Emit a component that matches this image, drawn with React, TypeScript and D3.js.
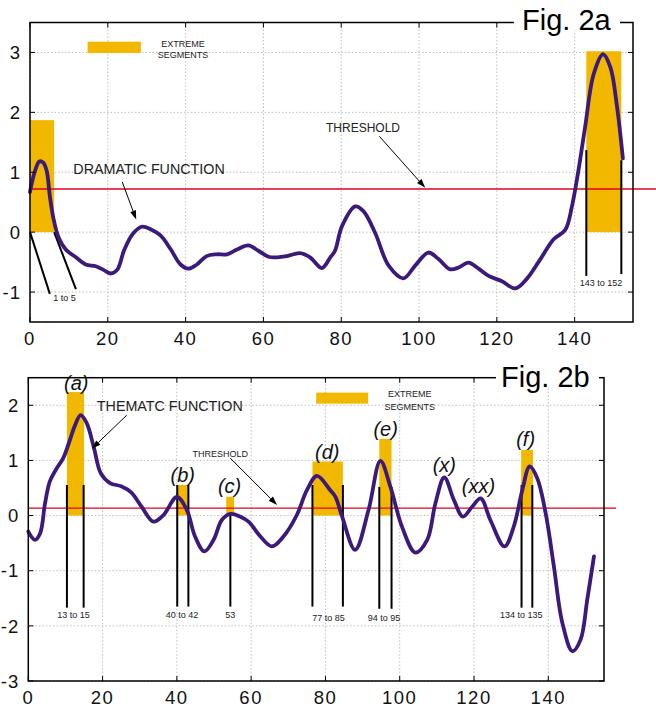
import React from "react";
import * as d3 from "d3";

// ---------- DATA ----------
const xTicks = [0, 20, 40, 60, 80, 100, 120, 140];
const topYTicks = [-1, 0, 1, 2, 3];
const botYTicks = [-3, -2, -1, 0, 1, 2];

const dramaticX = [0, 1.1, 2.4, 3.4, 4.3, 5.1, 6, 7.3, 9.2, 11.8, 14.3, 16.9, 18.9, 20.7, 22.4, 24.2, 26.4, 28.7, 31, 33.6, 36.2, 38.7, 40.7, 42.9, 45.4, 48, 50.6, 53.2, 56.1, 58.7, 61.3, 63.5, 66, 69.4, 72, 75, 77.2, 78.4, 80.2, 83.6, 85.7, 88.7, 92.2, 96, 99, 102.4, 105, 108, 110.2, 112.7, 115.3, 117.9, 121.3, 124.7, 127.7, 131.2, 134.6, 137.6, 139.3, 141, 142.7, 144.9, 147.3, 149.2, 150.9, 152.4];
const dramaticY = [0.67, 0.98, 1.18, 1.16, 1.02, 0.6, 0.24, -0.08, -0.29, -0.42, -0.54, -0.57, -0.63, -0.69, -0.63, -0.3, -0.03, 0.09, 0.05, -0.06, -0.29, -0.54, -0.61, -0.54, -0.4, -0.37, -0.37, -0.29, -0.22, -0.31, -0.41, -0.42, -0.4, -0.35, -0.42, -0.6, -0.42, -0.31, 0.1, 0.43, 0.35, -0.01, -0.56, -0.77, -0.56, -0.34, -0.45, -0.62, -0.59, -0.51, -0.61, -0.73, -0.82, -0.94, -0.78, -0.45, -0.12, 0.04, 0.43, 1.04, 1.76, 2.64, 2.97, 2.75, 2.09, 1.23];

const thematicX = [0, 1.8, 3.2, 4.5, 5.8, 7.5, 9.4, 11.2, 12.6, 14.1, 15.7, 17.7, 19.5, 22, 25, 27.7, 30.5, 33.7, 36.4, 40, 42.7, 44.9, 47.4, 49.9, 52.1, 54.4, 57.1, 59.3, 62.5, 65.6, 68.7, 72.3, 75, 77.7, 81.3, 82.7, 84.5, 88, 91.6, 94.8, 97.5, 100.6, 104.2, 107.4, 109.6, 112, 114.6, 117, 119.5, 121.8, 124.4, 128.2, 130.7, 133, 135, 137, 139.3, 141.5, 143.8, 146.5, 148.7, 150.5, 152.3];
const thematicY = [-0.29, -0.44, -0.32, 0.22, 0.62, 0.84, 1.04, 1.37, 1.64, 1.82, 1.68, 1.22, 0.77, 0.59, 0.53, 0.42, 0.16, -0.11, 0.01, 0.34, 0.1, -0.38, -0.65, -0.44, -0.08, 0.03, -0.02, -0.11, -0.38, -0.56, -0.38, 0.01, 0.46, 0.72, 0.46, 0.34, -0.02, -0.62, 0.1, 0.99, 0.52, -0.2, -0.67, -0.44, 0.22, 0.69, 0.28, -0.02, 0.16, 0.31, -0.08, -0.56, -0.2, 0.46, 0.89, 0.68, 0.04, -0.92, -1.95, -2.46, -2.25, -1.52, -0.74];

const topThreshold = 0.72;
const botThreshold = 0.134;

// extreme segments: [start, end, height]
const topSegStart = [0, 143];
const topSegEnd = [6.2, 152];
const topSegHeight = [1.87, 3.02];

const botSegStart = [10.4, 40.1, 53.3, 76.5, 94.5, 132.7];
const botSegEnd = [15, 43.1, 55.4, 84.7, 97.8, 135.9];
const botSegHeight = [2.24, 0.555, 0.34, 0.98, 1.39, 1.19];

// marker lines: [x0, y0, x1, y1]
const topMarkers: number[][] = [
  [0, 0, 5.1, -1.03],
  [6.2, 0, 11.8, -0.95],
  [143, 1.37, 143, -0.73],
  [152, 1.2, 152, -0.7],
];
const botMarkers: number[][] = [
  [10.4, 0.555, 10.4, -1.67],
  [14.9, 0.555, 14.9, -1.67],
  [40.1, 0.555, 40.1, -1.65],
  [43.1, 0.555, 43.1, -1.65],
  [54.4, 0.03, 54.4, -1.65],
  [76.5, 0.555, 76.5, -1.65],
  [84.7, 0.555, 84.7, -1.65],
  [94.5, 0.52, 94.5, -1.69],
  [97.8, 0.52, 97.8, -1.69],
  [132.8, 0.555, 132.8, -1.67],
  [135.7, 0.555, 135.7, -1.67],
];

const topRangeLabels = ["1 to 5", "143 to 152"];
const topRangeX = [8.9, 146.8];
const topRangeY = [-1.1, -0.85];

const botRangeLabels = ["13 to 15", "40 to 42", "53", "77 to 85", "94 to 95", "134 to 135"];
const botRangeX = [12.2, 41.4, 54.4, 80.8, 95.8, 132.7];
const botRangeY = [-1.8, -1.8, -1.8, -1.86, -1.85, -1.8];

const letterLabels = ["(a)", "(b)", "(c)", "(d)", "(e)", "(x)", "(xx)", "(f)"];
const letterX = [12.9, 41.6, 54.2, 80.5, 96.2, 112, 121.2, 133.9];
const letterY = [2.4, 0.74, 0.54, 1.16, 1.57, 0.92, 0.54, 1.38];

// ---------- STYLE ----------
const PURPLE = "#3c1a7c";
const ORANGE = "#f2b800";
const RED = "#e3001b";
const FONT = "'Liberation Sans', Arial, Helvetica, sans-serif";

type PanelProps = {
  x0: number; x1: number; yTop: number; yBot: number;
  yDomain: [number, number]; yTicks: number[];
  cx: number[]; cy: number[];
  threshold: number; thrEnd: number;
  segS: number[]; segE: number[]; segH: number[];
  markers: number[][];
  rLabels: string[]; rX: number[]; rY: number[];
  fig: string; figX: number; figBase: number; figGap: [number, number];
  legend: { x0: number; x1: number; y0: number; y1: number; tx: number; ty1: number; ty2: number };
  children?: (x: d3.ScaleLinear<number, number>, y: d3.ScaleLinear<number, number>) => React.ReactNode;
  id: string;
};

function Panel(p: PanelProps) {
  const x = d3.scaleLinear().domain([0, 155]).range([p.x0, p.x1]);
  const y = d3.scaleLinear().domain(p.yDomain).range([p.yBot, p.yTop]);
  const pts = p.cx.map((v, i) => [v, p.cy[i]] as [number, number]);
  const line = d3.line<[number, number]>().x((d) => x(d[0])).y((d) => y(d[1])).curve(d3.curveCatmullRom.alpha(0.5));
  const tk = 5;
  return (
    <g>
      {/* grid */}
      {xTicks.map((t) => (
        <line key={"gx" + t} x1={x(t)} x2={x(t)} y1={p.yTop} y2={p.yBot} stroke="#bdbdbd" strokeWidth={1} strokeDasharray="1.5,2" />
      ))}
      {p.yTicks.map((t) => (
        <line key={"gy" + t} x1={p.x0} x2={p.x1} y1={y(t)} y2={y(t)} stroke="#bdbdbd" strokeWidth={1} strokeDasharray="1.5,2" />
      ))}
      {/* segments */}
      {p.segS.map((s, i) => (
        <rect key={"s" + i} x={x(s)} y={y(p.segH[i])} width={x(p.segE[i]) - x(s)} height={y(0) - y(p.segH[i])} fill={ORANGE} />
      ))}
      {/* legend */}
      <rect x={x(p.legend.x0)} y={y(p.legend.y1)} width={x(p.legend.x1) - x(p.legend.x0)} height={y(p.legend.y0) - y(p.legend.y1)} fill={ORANGE} />
      <text x={x(p.legend.tx)} y={y(p.legend.ty1)} dy="0.35em" textAnchor="middle" fontSize={9} fontFamily={FONT} fill="#222">EXTREME</text>
      <text x={x(p.legend.tx)} y={y(p.legend.ty2)} dy="0.35em" textAnchor="middle" fontSize={9} fontFamily={FONT} fill="#222">SEGMENTS</text>
      {/* threshold */}
      <line x1={p.x0} x2={p.thrEnd} y1={y(p.threshold)} y2={y(p.threshold)} stroke={RED} strokeWidth={1.3} />
      {/* markers */}
      {p.markers.map((m, i) => (
        <line key={"m" + i} x1={x(m[0])} y1={y(m[1])} x2={x(m[2])} y2={y(m[3])} stroke="#000" strokeWidth={2} />
      ))}
      {/* curve */}
      <path d={line(pts) || ""} fill="none" stroke={PURPLE} strokeWidth={3.8} strokeLinejoin="round" strokeLinecap="round" />
      {/* range labels */}
      {p.rLabels.map((t, i) => (
        <text key={"r" + i} x={x(p.rX[i])} y={y(p.rY[i])} dy="0.35em" textAnchor="middle" fontSize={9} fontFamily={FONT} fill="#222">{t}</text>
      ))}
      {p.children && p.children(x, y)}
      {/* frame */}
      <rect x={p.x0} y={p.yTop} width={p.x1 - p.x0} height={p.yBot - p.yTop} fill="none" stroke="#000" strokeWidth={1.5} />
      {/* ticks */}
      {xTicks.map((t) => (
        <g key={"tx" + t}>
          <line x1={x(t)} x2={x(t)} y1={p.yBot} y2={p.yBot - tk} stroke="#000" strokeWidth={1} />
          <line x1={x(t)} x2={x(t)} y1={p.yTop} y2={p.yTop + tk} stroke="#000" strokeWidth={1} />
          <text x={x(t)} y={p.yBot + 23} textAnchor="middle" fontSize={18.5} fontFamily={FONT} letterSpacing={1.5} fill="#111">{t}</text>
        </g>
      ))}
      {p.yTicks.map((t) => (
        <g key={"ty" + t}>
          <line x1={p.x0} x2={p.x0 + tk} y1={y(t)} y2={y(t)} stroke="#000" strokeWidth={1} />
          <line x1={p.x1} x2={p.x1 - tk} y1={y(t)} y2={y(t)} stroke="#000" strokeWidth={1} />
          <text x={p.x0 - 9} y={y(t)} dy="0.36em" textAnchor="end" fontSize={18.5} fontFamily={FONT} letterSpacing={1} fill="#111">{t}</text>
        </g>
      ))}
      {/* figure label */}
      <rect x={p.figGap[0]} y={p.yTop - 22} width={p.figGap[1] - p.figGap[0]} height={30} fill="#fff" />
      <text x={p.figX} y={p.figBase} fontSize={29} fontFamily={FONT} fill="#000">{p.fig}</text>
    </g>
  );
}

function Arrow({ x1, y1, x2, y2 }: { x1: number; y1: number; x2: number; y2: number }) {
  const a = Math.atan2(y2 - y1, x2 - x1);
  const L = 9, W = 3;
  const bx = x2 - L * Math.cos(a), by = y2 - L * Math.sin(a);
  const p1 = [bx + W * Math.sin(a), by - W * Math.cos(a)];
  const p2 = [bx - W * Math.sin(a), by + W * Math.cos(a)];
  return (
    <g>
      <line x1={x1} y1={y1} x2={bx} y2={by} stroke="#000" strokeWidth={1} />
      <path d={`M${x2},${y2}L${p1[0]},${p1[1]}L${p2[0]},${p2[1]}Z`} fill="#000" />
    </g>
  );
}

export default function App() {
  return (
    <svg width={656} height={707} style={{ position: "absolute", left: 0, top: 0, background: "#fff" }}>
      <rect width={656} height={707} fill="#fff" />
      <Panel
        id="a"
        x0={30} x1={633} yTop={22.5} yBot={322}
        yDomain={[-1.5, 3.5]} yTicks={topYTicks}
        cx={dramaticX} cy={dramaticY}
        threshold={topThreshold} thrEnd={656}
        segS={topSegStart} segE={topSegEnd} segH={topSegHeight}
        markers={topMarkers}
        rLabels={topRangeLabels} rX={topRangeX} rY={topRangeY}
        fig="Fig. 2a" figX={522} figBase={30} figGap={[514, 620]}
        legend={{ x0: 14.8, x1: 28.5, y0: 2.99, y1: 3.18, tx: 39.3, ty1: 3.15, ty2: 2.96 }}
      >
        {(x, y) => (
          <g>
            <text x={x(30.6)} y={y(1.06)} dy="0.35em" textAnchor="middle" fontSize={14.3} fontFamily={FONT} fill="#222">DRAMATIC FUNCTION</text>
            <Arrow x1={x(23.7)} y1={y(0.84)} x2={x(27.3)} y2={y(0.21)} />
            <text x={x(85.6)} y={y(1.74)} dy="0.35em" textAnchor="middle" fontSize={12} fontFamily={FONT} fill="#222">THRESHOLD</text>
            <Arrow x1={x(89.8)} y1={y(1.6)} x2={x(101.6)} y2={y(0.74)} />
          </g>
        )}
      </Panel>
      <Panel
        id="b"
        x0={28.3} x1={604} yTop={377.7} yBot={681}
        yDomain={[-3, 2.5]} yTicks={botYTicks}
        cx={thematicX} cy={thematicY}
        threshold={botThreshold} thrEnd={616}
        segS={botSegStart} segE={botSegEnd} segH={botSegHeight}
        markers={botMarkers}
        rLabels={botRangeLabels} rX={botRangeX} rY={botRangeY}
        fig="Fig. 2b" figX={501} figBase={386.7} figGap={[496, 599]}
        legend={{ x0: 77.5, x1: 91.5, y0: 2.03, y1: 2.23, tx: 102.7, ty1: 2.2, ty2: 1.97 }}
      >
        {(x, y) => (
          <g>
            {letterLabels.map((t, i) => (
              <text key={"l" + i} x={x(letterX[i])} y={y(letterY[i])} dy="0.35em" textAnchor="middle" fontSize={20} fontStyle="italic" fontFamily={FONT} fill="#111">{t}</text>
            ))}
            <text x={x(38.1)} y={y(1.98)} dy="0.35em" textAnchor="middle" fontSize={14.3} fontFamily={FONT} fill="#222">THEMATC FUNCTION</text>
            <Arrow x1={x(26.5)} y1={y(1.82)} x2={x(17.1)} y2={y(1.21)} />
            <text x={x(51.7)} y={y(1.12)} dy="0.35em" textAnchor="middle" fontSize={9} fontFamily={FONT} fill="#222">THRESHOLD</text>
            <Arrow x1={x(54.4)} y1={y(1.04)} x2={x(67)} y2={y(0.19)} />
          </g>
        )}
      </Panel>
    </svg>
  );
}
